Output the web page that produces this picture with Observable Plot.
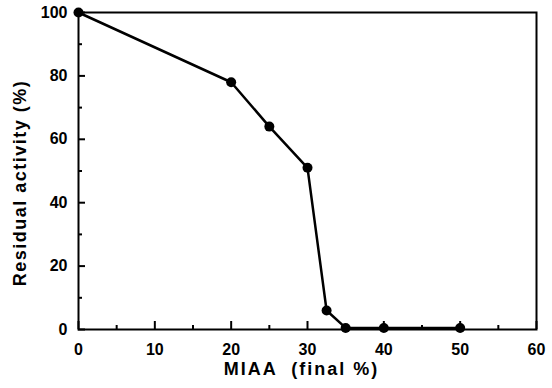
<!DOCTYPE html>
<html><head><meta charset="utf-8">
<script src="https://cdn.jsdelivr.net/npm/d3@7"></script>
<script src="https://cdn.jsdelivr.net/npm/@observablehq/plot@0.6"></script>
<style>body{margin:0;background:#fff} svg text{font-weight:bold}</style>
</head><body><div id="chart"></div>
<script>
const miaa = [0, 20, 25, 30, 32.5, 35, 40, 50];
const activity = [100, 78, 64, 51, 6, 0.5, 0.5, 0.5];
const xTicks = [0, 10, 20, 30, 40, 50, 60];
const xMinor = [5, 15, 25, 35, 45, 55];
const yTicks = [0, 20, 40, 60, 80, 100];
const yMinor = [10, 30, 50, 70, 90];
const xTitle = "MIAA  (final %)";
const yTitle = "Residual activity (%)";
const data = miaa.map((x, i) => ({x, y: activity[i]}));

const chart = Plot.plot({
  width: 552, height: 388,
  marginLeft: 78, marginRight: 16, marginTop: 12, marginBottom: 59,
  style: {fontFamily: "'Liberation Sans', Arial, sans-serif", fontSize: "16px", color: "#000", background: "#fff"},
  x: {domain: [0, 60]},
  y: {domain: [0, 100]},
  marks: [
    Plot.axisX(xTicks, {tickSize: -8, tickPadding: 22, strokeWidth: 2, label: null, tickFormat: d => d}),
    Plot.axisX(xMinor, {tickSize: -4, tickFormat: () => "", strokeWidth: 2, label: null}),
    Plot.axisY(yTicks, {tickSize: -7, tickPadding: 18, strokeWidth: 2, label: null, tickFormat: d => d}),
    Plot.axisY(yMinor, {tickSize: -4, tickFormat: () => "", strokeWidth: 2, label: null}),
    Plot.frame({strokeWidth: 2}),
    Plot.line(data, {x: "x", y: "y", strokeWidth: 2.5, stroke: "#000"}),
    Plot.dot(data, {x: "x", y: "y", r: 5, fill: "#000"}),
    Plot.text([xTitle], {frameAnchor: "bottom", dy: 45, dx: -6, fontWeight: "bold", fontSize: 18}),
    Plot.text([yTitle], {frameAnchor: "left", textAnchor: "middle", rotate: -90, dx: -58, dy: 12, fontWeight: "bold", fontSize: 18})
  ]
});
d3.select(chart).selectAll("text").filter(function() {
  return this.textContent === xTitle;
}).attr("letter-spacing", "2px").style("white-space", "pre");
d3.select(chart).selectAll("text").filter(function() {
  return this.textContent === yTitle;
}).attr("letter-spacing", "1.5px");
document.getElementById("chart").appendChild(chart);
</script>
</body></html>
